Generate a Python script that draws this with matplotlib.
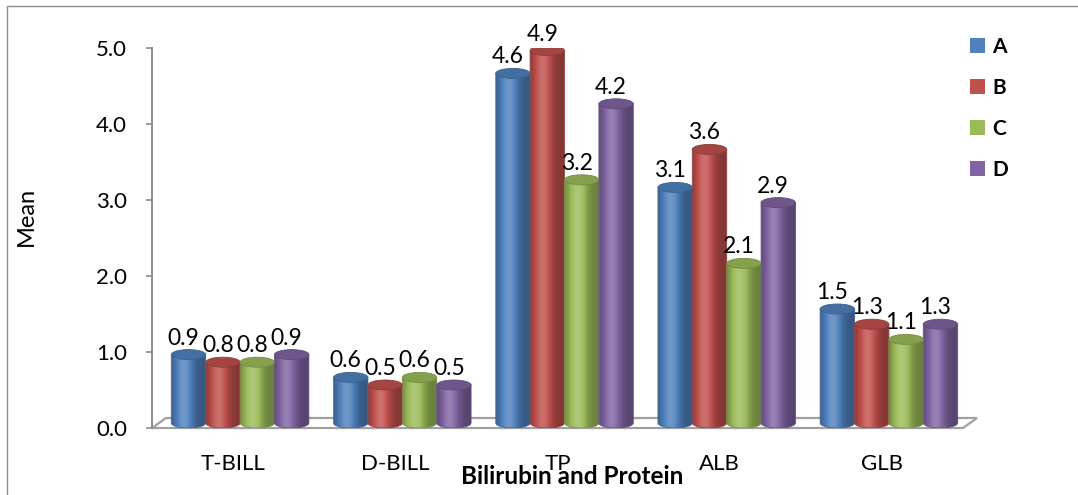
import matplotlib
matplotlib.use("Agg")
import matplotlib.pyplot as plt
import numpy as np
from matplotlib.patches import Ellipse, PathPatch, Patch, Polygon, Rectangle
from matplotlib.path import Path
from matplotlib.transforms import ScaledTranslation
from matplotlib.colors import to_rgb

plt.rcParams['font.family'] = ['Lato', 'DejaVu Sans']

# Mean values per group
categories = ['T-BILL', 'D-BILL', 'TP', 'ALB', 'GLB']
groups = ['A', 'B', 'C', 'D']
A = [0.9, 0.6, 4.6, 3.1, 1.5]
B = [0.8, 0.5, 4.9, 3.6, 1.3]
C = [0.8, 0.6, 3.2, 2.1, 1.1]
D = [0.9, 0.5, 4.2, 2.9, 1.3]
series = [A, B, C, D]
colors = ['#4F81BD', '#C0504D', '#9BBB59', '#8064A2']

W, H = 1078, 495
fig = plt.figure(figsize=(W / 100, H / 100), dpi=100)
ax = fig.add_axes([152 / W, 1 - 428 / H, (963 - 152) / W, (428 - 48) / H])

ymax = 5.0
bar_w = 0.212
# cylinders sit half way into the floor depth
depth = ScaledTranslation(0.07, 0.05, fig.dpi_scale_trans)
trans = ax.transData + depth
hh = 5 / ((428 - 48) / ymax)  # half height of the elliptical caps, data units


def shade(base, n=64):
    t = np.linspace(0, 1, n)
    m = 0.68 + 0.5 * np.exp(-((t - 0.36) / 0.28) ** 2)
    rgb = np.array(to_rgb(base))
    out = np.empty((1, n, 3))
    for k, mk in enumerate(m):
        if mk <= 1:
            out[0, k] = rgb * mk
        else:
            out[0, k] = rgb + (1 - rgb) * (mk - 1)
    return np.clip(out, 0, 1)


def cylinder(xc, v, color):
    x0, x1 = xc - bar_w / 2, xc + bar_w / 2
    th = np.linspace(np.pi, 2 * np.pi, 40)
    verts = [(x0, v), (x0, 0)]
    verts += list(zip(xc + bar_w / 2 * np.cos(th), hh * np.sin(th)))
    verts += [(x1, v), (x0, v)]
    codes = [Path.MOVETO] + [Path.LINETO] * (len(verts) - 2) + [Path.CLOSEPOLY]
    body = PathPatch(Path(verts, codes), facecolor='none',
                     edgecolor=np.array(to_rgb(color)) * 0.8, lw=0.6,
                     transform=trans, zorder=3)
    ax.add_patch(body)
    im = ax.imshow(shade(color), extent=(x0, x1, -hh, v), aspect='auto',
                   transform=trans, zorder=2, interpolation='bilinear')
    im.set_clip_path(body)
    top = Ellipse((xc, v), bar_w, 2 * hh, transform=trans, zorder=4,
                  facecolor=np.array(to_rgb(color)) * 0.86,
                  edgecolor=np.array(to_rgb(color)) * 0.75, lw=0.6)
    ax.add_patch(top)


x = np.arange(len(categories))
for j, (vals, col) in enumerate(zip(series, colors)):
    for i, v in enumerate(vals):
        xc = x[i] + (j - 1.5) * bar_w
        cylinder(xc, v, col)
        ax.annotate(f'{v:.1f}', (xc, v), xytext=(2, 15),
                    textcoords='offset pixels', ha='center', va='baseline',
                    fontsize=16.5, zorder=5)

ax.set_xlim(-0.5, 4.5)
ax.set_ylim(0, ymax)

# floor of the 3-D plot area
dx, dy = 14 / (963 - 152), 10 / (428 - 48)
floor = Polygon([(0, 0), (1, 0), (1 + dx, dy), (dx, dy)], closed=True,
                transform=ax.transAxes, facecolor='white', edgecolor='#a0a0a0',
                lw=1.6, clip_on=False, zorder=1)
ax.add_patch(floor)

for s in ['top', 'right', 'bottom']:
    ax.spines[s].set_visible(False)
ax.spines['left'].set_color('#8c8c8c')
ax.spines['left'].set_linewidth(1.4)
ax.patch.set_alpha(0)

ax.set_yticks(np.arange(0, 5.5, 1.0))
ax.set_yticklabels([f'{t:.1f}' for t in np.arange(0, 5.5, 1.0)])
ax.tick_params(axis='y', length=4.5, width=1.2, color='#8c8c8c', pad=13.5,
               labelsize=16)
ax.set_xticks(x)
ax.set_xticklabels(categories)
ax.tick_params(axis='x', length=0, pad=19, labelsize=16)

ax.set_ylabel('Mean', fontsize=17)
ax.yaxis.set_label_coords((37 - 152) / (963 - 152), (428 - 216) / (428 - 48))
fig.text(572 / W, 1 - 477 / H, 'Bilirubin and Protein', ha='center',
         va='center', fontsize=17.5, fontweight='bold')

handles = [Patch(facecolor=c) for c in colors]
fig.legend(handles, groups, loc='upper left',
           bbox_to_anchor=(970 / W, 1 - 37 / H), bbox_transform=fig.transFigure,
           frameon=False, borderpad=0, borderaxespad=0,
           handlelength=0.72, handleheight=0.72, handletextpad=0.35,
           labelspacing=1.0, prop={'weight': 'bold', 'size': 15})

# chart area border
fig.add_artist(Rectangle((7 / W, -0.1), 1.2, 1.1 - 6 / H, fill=False,
                         edgecolor='#8c8c8c', lw=1.0,
                         transform=fig.transFigure))

fig.savefig('out.png', dpi=100)
